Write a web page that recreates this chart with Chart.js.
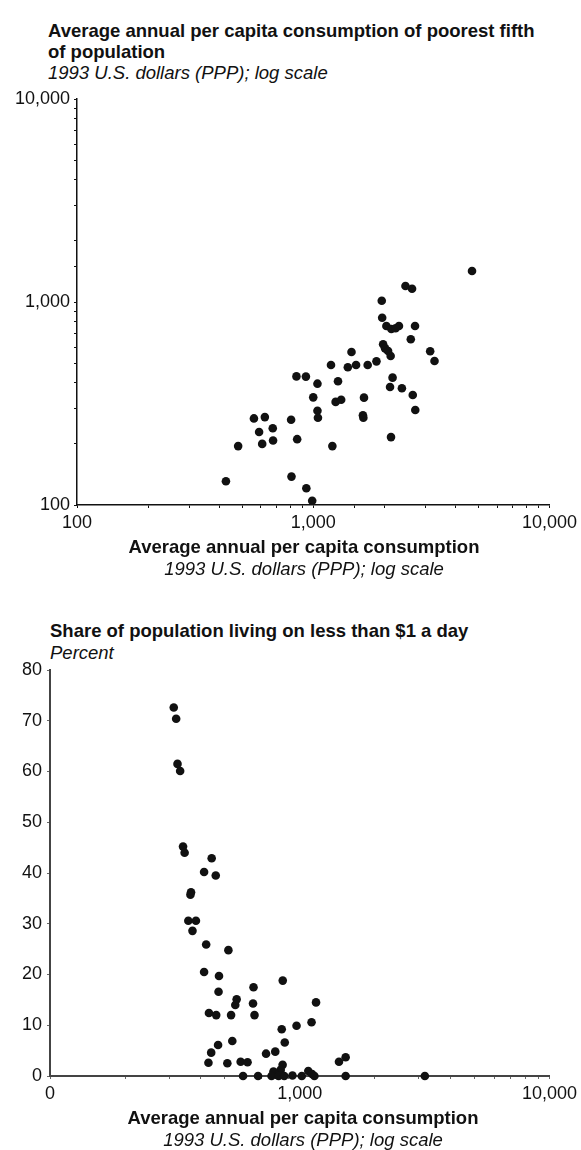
<!DOCTYPE html>
<html>
<head>
<meta charset="utf-8">
<title>Consumption and poverty</title>
<script src="https://cdn.jsdelivr.net/npm/chart.js@4.4.1/dist/chart.umd.min.js"></script>
<style>
  html, body { margin: 0; padding: 0; background: #ffffff; }
  #page {
    position: relative; width: 581px; height: 1150px; overflow: hidden;
    font-family: "Liberation Sans", Arial, Helvetica, sans-serif; color: #111;
  }
  .txt { position: absolute; white-space: nowrap; font-size: 18.5px; line-height: 21px; }
  .bold { font-weight: bold; }
  .ital { font-style: italic; }
  .ctr { transform: translateX(-50%); text-align: center; }
  .box { position: absolute; left: 0; }
  canvas { display: block; }
</style>
</head>
<body>
<div id="page">
  <!-- upper panel headings -->
  <div class="txt bold" style="left:48px; top:20px;">Average annual per capita consumption of poorest fifth<br>of population</div>
  <div class="txt ital" style="left:48px; top:62px;">1993 U.S. dollars (PPP); log scale</div>
  <div class="box" style="top:0; width:581px; height:540px;"><canvas id="poorChart" width="581" height="540"></canvas></div>
  <div class="txt bold ctr" style="left:304px; top:536px;">Average annual per capita consumption</div>
  <div class="txt ital ctr" style="left:304px; top:558px;">1993 U.S. dollars (PPP); log scale</div>

  <!-- lower panel headings -->
  <div class="txt bold" style="left:50px; top:620px;">Share of population living on less than $1 a day</div>
  <div class="txt ital" style="left:50px; top:642px;">Percent</div>
  <div class="box" style="top:600px; width:581px; height:510px;"><canvas id="dollarChart" width="581" height="510"></canvas></div>
  <div class="txt bold ctr" style="left:303px; top:1107px;">Average annual per capita consumption</div>
  <div class="txt ital ctr" style="left:303px; top:1129px;">1993 U.S. dollars (PPP); log scale</div>
</div>

<script>
// Upper panel: average per capita consumption vs. consumption of the poorest fifth (1993 PPP $)
const poorAvgConsumption = [
  4700, 2457, 2620, 1950, 1958, 2040, 2141, 2306, 2231, 2697,
  2588, 1976, 2014, 2074, 2127, 3126, 3261, 1452, 1852, 1700,
  1518, 1401, 1189, 849, 931, 1042, 1273, 2167, 2114, 2373,
  2638, 2704, 1000, 1640, 1244, 1313, 1042, 1047, 1623, 1630,
  806, 561, 624, 674, 590, 676, 608, 855, 481, 1205,
  2134, 427, 809, 935, 990
];
const poorestFifthConsumption = [
  1422, 1199, 1163, 1015, 837, 762, 736, 762, 742, 762,
  655, 619, 591, 574, 542, 572, 512, 567, 510, 489,
  489, 477, 489, 430, 429, 396, 407, 424, 381, 376,
  348, 294, 339, 338, 322, 330, 291, 269, 277, 269,
  263, 267, 271, 239, 229, 208, 200, 211, 195, 195,
  216, 131, 138, 121, 105
];

// Lower panel: average per capita consumption vs. share living on less than $1 a day
const dollarAvgConsumption = [
  313, 320, 324, 332, 341, 346, 444, 414, 461, 367,
  365, 358, 384, 372, 422, 518, 414, 475, 855, 653,
  473, 559, 552, 650, 1162, 433, 463, 531, 659, 1115,
  971, 847, 871, 537, 471, 442, 431, 513, 580, 618,
  733, 798, 854, 839, 785, 811, 771, 823, 867, 593,
  681, 935, 1019, 1082, 1120, 1145, 1436, 1527, 1527, 3170
];
const shareBelowDollar = [
  72.6, 70.4, 61.5, 60.1, 45.2, 44.0, 42.9, 40.2, 39.5, 36.2,
  35.7, 30.6, 30.6, 28.6, 25.9, 24.8, 20.5, 19.7, 18.8, 17.5,
  16.6, 15.1, 14.0, 14.3, 14.5, 12.4, 12.0, 12.0, 12.0, 10.6,
  9.9, 9.2, 6.6, 6.9, 6.1, 4.6, 2.6, 2.5, 2.8, 2.7,
  4.4, 4.8, 2.2, 1.2, 0.9, 0.2, 0, 0, 0, 0,
  0, 0.1, 0, 1.0, 0.4, 0, 2.8, 3.7, 0, 0
];

// Axis ranges and labelled ticks
const logRange = [100, 10000];
const logLabelled = [100, 1000, 10000];
const lowerXLabels = ['0', '1,000', '10,000'];
const percentRange = [0, 80];
const percentStep = 10;

const FONT = '"Liberation Sans", Arial, Helvetica, sans-serif';
const INK = '#111111';

function pairs(xs, ys) { return xs.map((x, i) => ({ x: x, y: ys[i] })); }

function decadeLabel(value) {
  const k = logLabelled.indexOf(Number(value));
  return k >= 0 ? Number(value).toLocaleString('en-US') : '';
}
function lowerDecadeLabel(value) {
  const k = logLabelled.indexOf(Number(value));
  return k >= 0 ? lowerXLabels[k] : '';
}

function dotSet(points) {
  return {
    data: points,
    pointRadius: 4.3,
    pointHoverRadius: 4.3,
    pointBackgroundColor: INK,
    pointBorderColor: INK,
    pointBorderWidth: 0,
    showLine: false,
    clip: false
  };
}

const common = {
  responsive: false,
  animation: false,
  events: [],
  plugins: { legend: { display: false }, tooltip: { enabled: false }, title: { display: false } }
};

new Chart(document.getElementById('poorChart'), {
  type: 'scatter',
  data: { datasets: [dotSet(pairs(poorAvgConsumption, poorestFifthConsumption))] },
  options: Object.assign({}, common, {
    layout: { padding: { top: 99, right: 26, left: 0, bottom: 0 } },
    scales: {
      x: {
        type: 'logarithmic', min: logRange[0], max: logRange[1],
        afterFit(s) { s.height = 35; },
        border: { color: INK, width: 1.5 },
        grid: { drawOnChartArea: false, tickLength: 3, color: INK, lineWidth: 1 },
        ticks: { autoSkip: false, maxRotation: 0, padding: 4, color: INK,
                 font: { size: 18, family: FONT }, callback: decadeLabel }
      },
      y: {
        type: 'logarithmic', min: logRange[0], max: logRange[1],
        afterFit(s) { s.width = 77; },
        border: { color: INK, width: 1.5 },
        grid: { drawOnChartArea: false, tickLength: 3, color: INK, lineWidth: 1 },
        ticks: { autoSkip: false, padding: 4, color: INK,
                 font: { size: 18, family: FONT }, callback: decadeLabel }
      }
    }
  })
});

new Chart(document.getElementById('dollarChart'), {
  type: 'scatter',
  data: { datasets: [dotSet(pairs(dollarAvgConsumption, shareBelowDollar))] },
  options: Object.assign({}, common, {
    layout: { padding: { top: 70, right: 26, left: 0, bottom: 0 } },
    scales: {
      x: {
        type: 'logarithmic', min: logRange[0], max: logRange[1],
        afterFit(s) { s.height = 34; },
        border: { color: '#444', width: 2 },
        grid: { drawOnChartArea: false, tickLength: 3, color: '#666', lineWidth: 1 },
        ticks: { autoSkip: false, maxRotation: 0, padding: 4, color: INK,
                 font: { size: 18, family: FONT }, callback: lowerDecadeLabel }
      },
      y: {
        type: 'linear', min: percentRange[0], max: percentRange[1],
        afterFit(s) { s.width = 50; },
        border: { color: '#444', width: 2 },
        grid: { drawOnChartArea: false, tickLength: 3, color: '#666', lineWidth: 1 },
        ticks: { stepSize: percentStep, autoSkip: false, padding: 5, color: INK,
                 font: { size: 18, family: FONT } }
      }
    }
  })
});
</script>
</body>
</html>
